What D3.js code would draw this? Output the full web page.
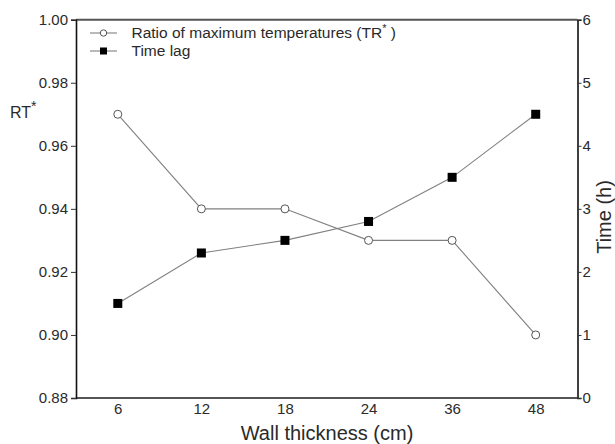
<!DOCTYPE html>
<html>
<head>
<meta charset="utf-8">
<script src="https://cdn.jsdelivr.net/npm/d3@7"></script>
<style>
  html, body { margin: 0; padding: 0; background: #fff; }
  svg { display: block; font-family: "Liberation Sans", Arial, sans-serif; }
</style>
</head>
<body>
<svg id="chart" width="615" height="444"></svg>
<script>
// Wall thickness categories (cm)
const thickness = ["6", "12", "18", "24", "36", "48"];
// Ratio of maximum temperatures (left axis)
const ratioValues = [0.97, 0.94, 0.94, 0.93, 0.93, 0.90];
// Time lag in hours (right axis)
const timeLag = [1.5, 2.3, 2.5, 2.8, 3.5, 4.5];
// Axis ticks
const leftTicks = [0.88, 0.90, 0.92, 0.94, 0.96, 0.98, 1.00];
const rightTicks = [0, 1, 2, 3, 4, 5, 6];

const svg = d3.select("#chart");
const plot = { left: 76, right: 577.5, top: 19.7, bottom: 398 };

const x = d3.scalePoint().domain(thickness).range([plot.left, plot.right]).padding(0.5);
const yL = d3.scaleLinear().domain([0.88, 1.00]).range([plot.bottom, plot.top]);
const yR = d3.scaleLinear().domain([0, 6]).range([plot.bottom, plot.top]);

const textColor = "#2a2a2a";
const lineColor = "#808080";

// Top and bottom frame lines
svg.append("line")
  .attr("x1", plot.left).attr("x2", plot.right)
  .attr("y1", plot.top).attr("y2", plot.top)
  .attr("stroke", "#555").attr("stroke-width", 2);
svg.append("line")
  .attr("x1", plot.left).attr("x2", plot.right)
  .attr("y1", plot.bottom).attr("y2", plot.bottom)
  .attr("stroke", "#555").attr("stroke-width", 2);

// Left axis
const gL = svg.append("g").attr("transform", `translate(${plot.left},0)`)
  .call(d3.axisLeft(yL).tickValues(leftTicks).tickFormat(d3.format(".2f")).tickSize(5).tickPadding(3));
// Right axis
const gR = svg.append("g").attr("transform", `translate(${plot.right},0)`)
  .call(d3.axisRight(yR).tickValues(rightTicks).tickFormat(d3.format("d")).tickSize(4).tickPadding(1));
// Bottom axis labels (no tick marks)
const gB = svg.append("g").attr("transform", `translate(0,${plot.bottom})`)
  .call(d3.axisBottom(x).tickSize(0).tickPadding(5));
gB.select(".domain").remove();

[gL, gR].forEach(g => {
  g.select(".domain").attr("stroke", "#111").attr("stroke-width", 1.6);
  g.selectAll(".tick line").attr("stroke", "#333");
});
[gL, gR, gB].forEach(g => {
  g.selectAll(".tick text")
    .attr("fill", textColor)
    .style("font-size", "15px")
    .style("font-family", "Liberation Sans, Arial, sans-serif");
});

// Axis titles
svg.append("text")
  .attr("x", 327).attr("y", 439.5)
  .attr("text-anchor", "middle").attr("fill", textColor)
  .style("font-size", "20px")
  .text("Wall thickness (cm)");

svg.append("text")
  .attr("transform", "translate(611,217) rotate(-90)")
  .attr("text-anchor", "middle").attr("fill", textColor)
  .style("font-size", "20px")
  .text("Time (h)");

const rt = svg.append("text")
  .attr("x", 10).attr("y", 118)
  .attr("fill", textColor)
  .style("font-size", "16px");
rt.append("tspan").text("RT");
rt.append("tspan").attr("dy", -7).style("font-size", "14px").text("*");

// Series lines
const ratioData = thickness.map((t, i) => ({ t, v: ratioValues[i] }));
const lagData = thickness.map((t, i) => ({ t, v: timeLag[i] }));

svg.append("path").datum(ratioData)
  .attr("fill", "none").attr("stroke", lineColor).attr("stroke-width", 1.1)
  .attr("d", d3.line().x(d => x(d.t)).y(d => yL(d.v)));
svg.append("path").datum(lagData)
  .attr("fill", "none").attr("stroke", lineColor).attr("stroke-width", 1.1)
  .attr("d", d3.line().x(d => x(d.t)).y(d => yR(d.v)));

// Markers
svg.selectAll("circle.ratio").data(ratioData).enter().append("circle")
  .attr("class", "ratio")
  .attr("cx", d => x(d.t)).attr("cy", d => yL(d.v)).attr("r", 4)
  .attr("fill", "#fff").attr("stroke", "#555").attr("stroke-width", 1);
svg.selectAll("rect.lag").data(lagData).enter().append("rect")
  .attr("class", "lag")
  .attr("x", d => x(d.t) - 4.5).attr("y", d => yR(d.v) - 4.5)
  .attr("width", 9).attr("height", 9)
  .attr("fill", "#000");

// Legend
const legend = svg.append("g").attr("transform", "translate(90,0)");
const legendRows = [
  { y: 33, label: "Ratio of maximum temperatures (TR", star: true, kind: "circle" },
  { y: 51, label: "Time lag", star: false, kind: "square" }
];
legendRows.forEach(r => {
  legend.append("line")
    .attr("x1", 0).attr("x2", 27).attr("y1", r.y).attr("y2", r.y)
    .attr("stroke", lineColor).attr("stroke-width", 1.1);
  if (r.kind === "circle") {
    legend.append("circle").attr("cx", 13.5).attr("cy", r.y).attr("r", 3.2)
      .attr("fill", "#fff").attr("stroke", "#555");
  } else {
    legend.append("rect").attr("x", 10).attr("y", r.y - 3.5)
      .attr("width", 7).attr("height", 7).attr("fill", "#000");
  }
  const t = legend.append("text")
    .attr("x", 41.5).attr("y", r.y + 5)
    .attr("fill", textColor).style("font-size", "15.5px");
  t.append("tspan").text(r.label);
  if (r.star) {
    t.append("tspan").attr("dy", -6).style("font-size", "11px").text("*");
    t.append("tspan").attr("dy", 6).text(" )");
  }
});
</script>
</body>
</html>
